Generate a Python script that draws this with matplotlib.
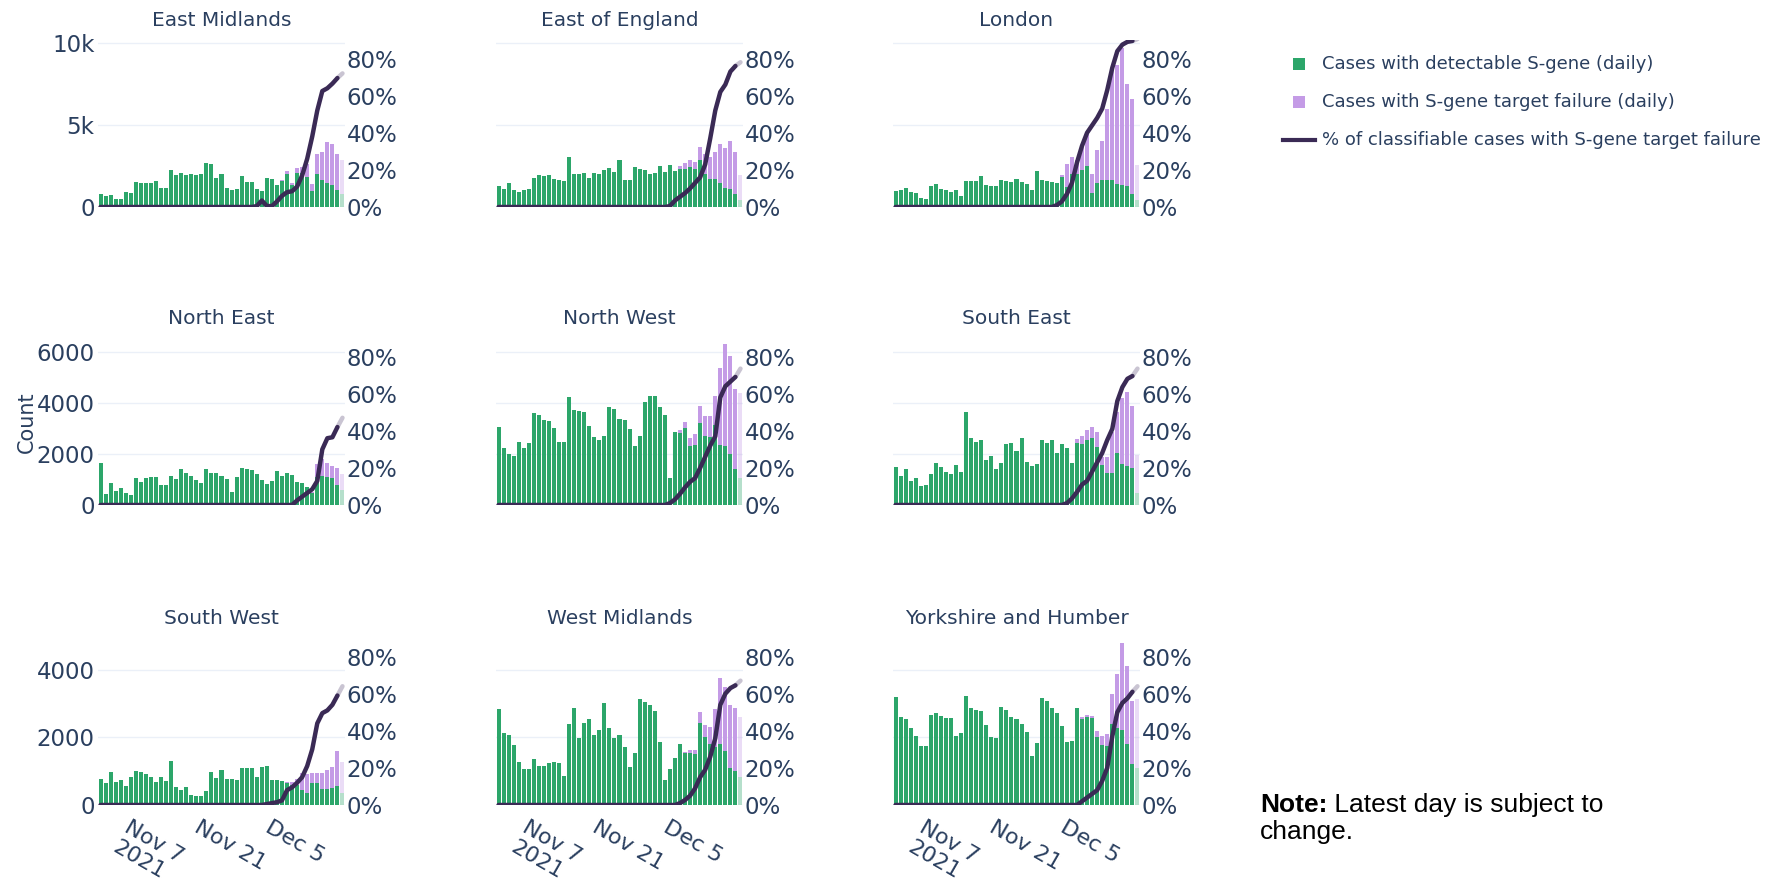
import numpy as np
import matplotlib
matplotlib.use("Agg")
import matplotlib.pyplot as plt
import matplotlib.dates as mdates
from matplotlib.patches import Rectangle
from matplotlib.lines import Line2D

# ---------------- data ----------------
dates = np.arange(np.datetime64('2021-11-01'), np.datetime64('2021-12-20'))  # 49 days
tick_dates = [np.datetime64('2021-11-07'), np.datetime64('2021-11-21'), np.datetime64('2021-12-05')]
tick_labels = ["Nov 7\n2021", "Nov 21", "Dec 5"]

regions = ["East Midlands", "East of England", "London",
           "North East", "North West", "South East",
           "South West", "West Midlands", "Yorkshire and Humber"]

em_det = [816,653,714,510,469,918,857,1530,1469,1469,1469,1592,1163,1184,2286,1980,2082,1980,2000,1980,
          2041,2714,2653,1796,2000,1184,1020,1082,1878,1530,1530,1122,980,1796,1694,1327,1600,2041,1370,2100,
          2100,1850,1000,2040,1630,1470,1370,1060,816]
em_sgtf = [0,0,0,0,0,0,0,0,0,0,0,0,0,0,0,0,0,0,0,0,0,0,0,0,0,0,0,0,0,0,0,0,0,0,0,0,
           50,160,100,300,350,800,390,1225,1740,2510,2470,2200,2040]
em_pct = [0,0,0,0,0,0,0,0,0,0,0,0,0,0,0,0,0,0,0,0,0,0,0,0,0,0,0,0,0,0,0,
          0.5,3.5,0.5,0.5,3,6,8,8.5,11,17,26,38,52,62.5,64,66.5,69.5,72]

eoe_det = [1265,1122,1469,1061,918,1020,1122,1796,1980,1898,1980,1735,1633,1592,3061,2041,2041,2082,1796,2082,
           2041,2286,2408,2143,2857,1633,1633,2449,2347,2286,2041,2082,2510,2143,2551,2200,2347,2347,2449,2300,
           2857,2041,1735,1735,1469,1184,1122,816,408]
eoe_sgtf = [0,0,0,0,0,0,0,0,0,0,0,0,0,0,0,0,0,0,0,0,0,0,0,0,0,0,0,0,0,0,0,0,0,0,0,0,
            150,350,410,450,820,1225,1327,1633,2368,2449,2918,2551,1530]
eoe_pct = [0,0,0,0,0,0,0,0,0,0,0,0,0,0,0,0,0,0,0,0,0,0,0,0,0,0,0,0,0,0,0,0,0,0,
           0.5,3.5,5.5,7.5,10,13,16,23,37,52,62,66,73,76,78]

ldn_det = [980,1020,1184,918,857,571,510,1265,1429,1122,1061,918,1061,653,1592,1592,1592,1878,1327,1265,
           1265,1673,1592,1531,1735,1531,1388,1020,2204,1673,1592,1531,1469,1837,1224,2041,2000,2245,2490,857,
           1469,1633,1633,1633,1388,1367,1300,816,400]
ldn_sgtf = [0,0,0,0,0,0,0,0,0,0,0,0,0,0,0,0,0,0,0,0,0,0,0,0,0,0,0,0,0,0,0,0,0,
            100,1388,1020,857,1429,1959,1163,2041,2400,4327,6780,7286,8330,6200,5756,2150]
ldn_pct = [0,0,0,0,0,0,0,0,0,0,0,0,0,0,0,0,0,0,0,0,0,0,0,0,0,0,0,0,0,0,0,0,
           1,3,7,13,24,33,40,44,48,53,63,75,84,87.5,89,89.5,90.5]

ne_det = [1657,431,848,561,653,483,392,1044,914,1044,1109,1109,783,783,1135,1005,1396,1266,1135,966,
          874,1396,1266,1266,1135,1005,522,1109,1436,1396,1370,1214,979,822,940,1344,1135,1266,1174,914,
          848,700,483,1109,1135,1109,1044,783,587]
ne_sgtf = [0,0,0,0,0,0,0,0,0,0,0,0,0,0,0,0,0,0,0,0,0,0,0,0,0,0,0,0,0,0,0,0,0,0,0,0,0,0,0,0,
           0,20,40,496,653,548,500,653,627]
ne_pct = [0,0,0,0,0,0,0,0,0,0,0,0,0,0,0,0,0,0,0,0,0,0,0,0,0,0,0,0,0,0,0,0,0,0,0,0,0,0,0,
          2.5,4.5,6.5,8.5,13,30,36,36.5,42,47]

nw_det = [3067,2219,1984,1918,2480,2219,2440,3615,3524,3328,3289,3028,2480,2480,4215,3719,3680,3654,3106,2675,
          2545,2700,3824,3745,3367,3328,2962,2310,2714,4046,4267,4267,3850,3524,1044,2845,2832,3002,2323,2349,
          3197,2701,2675,3132,2349,2310,1997,1396,1044]
nw_sgtf = [0,0,0,0,0,0,0,0,0,0,0,0,0,0,0,0,0,0,0,0,0,0,0,0,0,0,0,0,0,0,0,0,0,0,0,0,
           104,261,313,418,679,796,822,1148,3002,3993,3837,3132,3328]
nw_pct = [0,0,0,0,0,0,0,0,0,0,0,0,0,0,0,0,0,0,0,0,0,0,0,0,0,0,0,0,0,0,0,0,0,0,
          1,3,6,9.5,12.5,14.5,20,26,32,37,58,64,66.5,69,73.5]

se_det = [1501,1135,1396,953,1044,744,783,1214,1631,1475,1305,1214,1566,1305,3654,2636,2480,2545,1762,1900,
          1409,1631,2388,2440,2127,2636,1697,1527,1605,2545,2440,2545,2049,2388,2245,1657,2440,2388,2545,2636,
          2284,1566,1240,1240,2049,1605,1527,1436,483]
se_sgtf = [0,0,0,0,0,0,0,0,0,0,0,0,0,0,0,0,0,0,0,0,0,0,0,0,0,0,0,0,0,0,0,0,0,0,0,0,
           131,313,392,431,561,326,653,1630,1605,2571,2910,2440,1475]
se_pct = [0,0,0,0,0,0,0,0,0,0,0,0,0,0,0,0,0,0,0,0,0,0,0,0,0,0,0,0,0,0,0,0,0,0,
          1,3.5,7,11,13,18,23,28,35,41,56,63.5,68,69.5,73.5]

sw_det = [770,642,968,691,741,563,820,1017,968,919,820,691,840,711,1314,543,444,523,296,267,
          267,425,968,790,1037,760,760,741,1086,1086,1106,840,1136,1165,741,741,700,660,600,590,
          450,350,640,640,470,470,500,560,350]
sw_sgtf = [0,0,0,0,0,0,0,0,0,0,0,0,0,0,0,0,0,0,0,0,0,0,0,0,0,0,0,0,0,0,0,0,0,0,0,0,
           10,30,90,180,500,560,300,320,480,560,640,1050,930]
sw_pct = [0,0,0,0,0,0,0,0,0,0,0,0,0,0,0,0,0,0,0,0,0,0,0,0,0,0,0,0,0,0,0,0,0,
          0.5,1,1.5,2.5,8,9.5,12,15,21,30,44,49.5,51,54,59,64]

wm_det = [2835,2143,2074,1778,1284,1057,1067,1373,1156,1156,1235,1264,1235,869,2400,2884,1975,2420,2548,2074,
          2222,3012,2272,1975,2074,1728,1136,1531,3141,3042,2963,2785,1877,741,1067,1400,1808,1531,1531,1511,
          2440,2025,1808,1728,1808,1600,1086,1017,840]
wm_sgtf = [0,0,0,0,0,0,0,0,0,0,0,0,0,0,0,0,0,0,0,0,0,0,0,0,0,0,0,0,0,0,0,0,0,0,0,0,0,
           49,99,119,326,346,494,1107,1946,1887,1877,1847,1778]
wm_pct = [0,0,0,0,0,0,0,0,0,0,0,0,0,0,0,0,0,0,0,0,0,0,0,0,0,0,0,0,0,0,0,0,0,0,0,0,
          1,2.7,5,9,15,19,26,36,54,60,63,64.5,67]

yh_det = [3210,2617,2548,2291,2044,1758,1758,2667,2736,2637,2588,2568,2044,2143,3240,2864,2815,2785,2370,2025,
          1995,2914,2815,2617,2538,2400,2173,1452,1847,3180,3081,2884,2716,2341,1877,1906,2864,2538,2598,2568,
          2025,1778,1748,2390,2272,2222,1808,1205,1086]
yh_sgtf = [0,0,0,0,0,0,0,0,0,0,0,0,0,0,0,0,0,0,0,0,0,0,0,0,0,0,0,0,0,0,0,0,0,0,0,0,0,
           79,69,69,168,267,346,889,1610,2568,2311,1877,2044]
yh_pct = [0,0,0,0,0,0,0,0,0,0,0,0,0,0,0,0,0,0,0,0,0,0,0,0,0,0,0,0,0,0,0,0,0,0,0,0,0,
          2,4,6,8,13,20,37,50,55,57.5,61,64]

region_det = [em_det, eoe_det, ldn_det, ne_det, nw_det, se_det, sw_det, wm_det, yh_det]
region_sgtf = [em_sgtf, eoe_sgtf, ldn_sgtf, ne_sgtf, nw_sgtf, se_sgtf, sw_sgtf, wm_sgtf, yh_sgtf]
region_pct = [em_pct, eoe_pct, ldn_pct, ne_pct, nw_pct, se_pct, sw_pct, wm_pct, yh_pct]

row_ymax = [10200, 6536, 4948]
row_yticks = [[0, 5000, 10000], [0, 2000, 4000, 6000], [0, 2000, 4000]]
row_yticklabels = [["0", "5k", "10k"], ["0", "2000", "4000", "6000"], ["0", "2000", "4000"]]
pct_ticks = [0, 20, 40, 60, 80]
pct_labels = ["0%", "20%", "40%", "60%", "80%"]

legend_labels = ["Cases with detectable S-gene (daily)",
                 "Cases with S-gene target failure (daily)",
                 "% of classifiable cases with S-gene target failure"]

# ---------------- style ----------------
GREEN = "#2ca66a"
PURPLE = "#c49be6"
LINE = "#3a2a55"
GREY_LINE = "#c9c4d2"
TXT = "#2a3f5f"
GRID = "#ebf0f8"

W, H = 1777, 893
fig = plt.figure(figsize=(W / 100, H / 100), dpi=100)
fig.patch.set_facecolor("white")

col_left = [98, 496, 893]
row_top = [40, 338, 638]
pw, ph = 247, 167

x = mdates.date2num(dates)
xt = mdates.date2num(np.array(tick_dates))

for k, name in enumerate(regions):
    r, c = divmod(k, 3)
    l, t = col_left[c], row_top[r]
    ax = fig.add_axes([l / W, 1 - (t + ph) / H, pw / W, ph / H])
    det = np.array(region_det[k], dtype=float)
    sg = np.array(region_sgtf[k], dtype=float)
    pc = np.array(region_pct[k], dtype=float)

    ax.bar(x[:-1], det[:-1], width=0.8, color=GREEN, linewidth=0, zorder=2)
    ax.bar(x[:-1], sg[:-1], bottom=det[:-1], width=0.8, color=PURPLE, linewidth=0, zorder=2)
    ax.bar(x[-1:], det[-1:], width=0.8, color=GREEN, alpha=0.35, linewidth=0, zorder=2)
    ax.bar(x[-1:], sg[-1:], bottom=det[-1:], width=0.8, color=PURPLE, alpha=0.35, linewidth=0, zorder=2)

    ax.set_xlim(x[0] - 0.5, x[-1] + 0.5)
    ax.set_ylim(0, row_ymax[r])
    ax.set_yticks(row_yticks[r])
    ax.yaxis.grid(True, color=GRID, linewidth=1.0, zorder=0)
    ax.set_axisbelow(True)
    for s in ax.spines.values():
        s.set_visible(False)
    if c == 0:
        ax.set_yticklabels(row_yticklabels[r])
    else:
        ax.set_yticklabels([])
    ax.tick_params(axis="y", length=0, pad=2.5, labelsize=16.5, labelcolor=TXT)

    ax.set_xticks(xt)
    if r == 2:
        ax.set_xticklabels(tick_labels)
        ax.tick_params(axis="x", length=0, pad=9, labelsize=16, labelcolor=TXT)
        for lab in ax.get_xticklabels():
            lab.set_rotation(-30)
            lab.set_ha("left")
            lab.set_va("top")
            lab.set_rotation_mode("anchor")
            lab.set_multialignment("left")
    else:
        ax.set_xticklabels([])
        ax.tick_params(axis="x", length=0)

    ax2 = ax.twinx()
    ax2.plot(x[:-1], pc[:-1], color=LINE, lw=3.2, solid_capstyle="round", solid_joinstyle="round", zorder=3)
    ax2.plot(x[-2:], pc[-2:], color=GREY_LINE, lw=3.2, solid_capstyle="round", zorder=2)
    ax2.set_ylim(0, 90)
    ax2.set_yticks(pct_ticks)
    ax2.set_yticklabels(pct_labels)
    ax2.tick_params(axis="y", length=0, pad=1, labelsize=16.5, labelcolor=TXT)
    for s in ax2.spines.values():
        s.set_visible(False)
    ax2.set_xlim(x[0] - 0.5, x[-1] + 0.5)

    fig.text((l + pw / 2) / W, 1 - (t - 19) / H, name, ha="center", va="center",
             fontsize=14.5, color=TXT)

# y-axis title
fig.text(27 / W, 1 - 422 / H, "Count", rotation=90, ha="center", va="center", fontsize=15, color=TXT)

# legend (manual)
sq = 12
for i, col in enumerate([GREEN, PURPLE]):
    cy = [64, 102][i]
    fig.patches.append(Rectangle((1293 / W, 1 - (cy + sq / 2) / H), sq / W, sq / H,
                                 transform=fig.transFigure, color=col, linewidth=0))
fig.lines.append(Line2D([1283 / W, 1315 / W], [1 - 140 / H, 1 - 140 / H], transform=fig.transFigure,
                        color=LINE, lw=3))
for i, lab in enumerate(legend_labels):
    cy = [64, 102, 140][i]
    fig.text(1322 / W, 1 - cy / H, lab, ha="left", va="center", fontsize=13, color=TXT)

# note
note_font = ["Liberation Sans", "DejaVu Sans"]
t1 = fig.text(1260 / W, 1 - 812 / H, "Note:", ha="left", va="baseline", fontsize=19,
              fontweight="bold", family=note_font, color="black")
fig.canvas.draw()
bb = t1.get_window_extent(renderer=fig.canvas.get_renderer())
fig.text(bb.x1 / W, 1 - 812 / H, " Latest day is subject to", ha="left", va="baseline", fontsize=19,
         family=note_font, color="black")
fig.text(1260 / W, 1 - 839 / H, "change.", ha="left", va="baseline", fontsize=19,
         family=note_font, color="black")

fig.savefig("out.png", dpi=100, facecolor="white")
